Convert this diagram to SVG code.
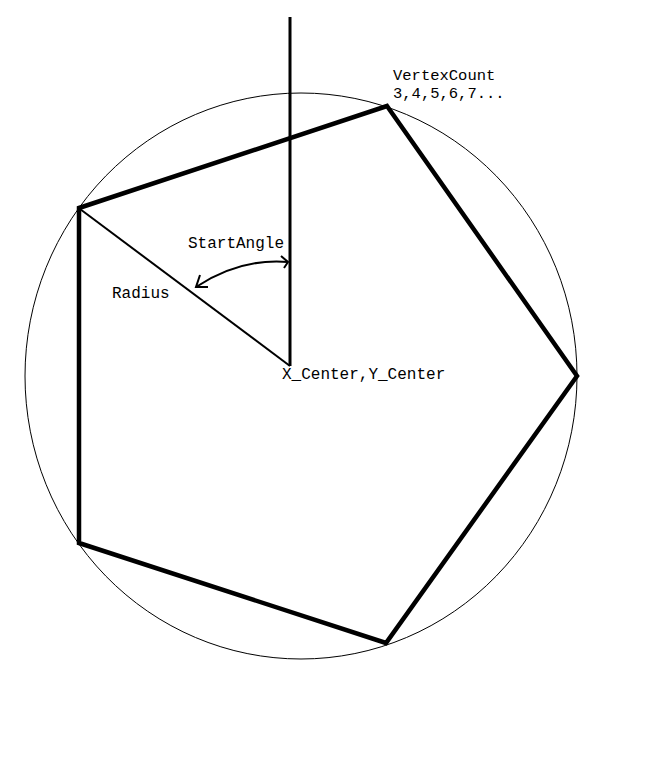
<svg xmlns="http://www.w3.org/2000/svg" width="646" height="762" viewBox="0 0 646 762">
<style>
.lbl{font-family:"Liberation Mono","Courier New",monospace;font-size:16px;fill:#000}
.thin{fill:none;stroke:#000;stroke-width:1}
.poly{fill:none;stroke:#000;stroke-width:4.5;stroke-linejoin:miter}
.ln{fill:none;stroke:#000}
</style>
<rect width="646" height="762" fill="#fff"/>
<g id="circle"><ellipse class="thin" cx="301" cy="376" rx="276" ry="283"/></g>
<g id="polygon"><polygon class="poly" points="387,106 577,376 386,643 79,543 79,208"/></g>
<g id="connectors">
<line class="ln" x1="290" y1="17" x2="290" y2="366" stroke-width="3"/>
<line class="ln" x1="80" y1="209" x2="290" y2="366" stroke-width="2"/>
<path class="ln" d="M196,287 Q240,258 288,262" stroke-width="2"/>
<polyline class="ln" points="200,275 196,287 208,287" stroke-width="2"/>
<polyline class="ln" points="281,256 288,262 284,268" stroke-width="2"/>
</g>
<g id="labels">
<text class="lbl" x="393" y="80" style="font-size:15.5px">VertexCount</text>
<text class="lbl" x="393" y="98" style="font-size:15.5px">3,4,5,6,7...</text>
<text class="lbl" x="188" y="248">StartAngle</text>
<text class="lbl" x="112" y="298">Radius</text>
<text class="lbl" x="282" y="379">X_Center,Y_Center</text>
</g>
</svg>
